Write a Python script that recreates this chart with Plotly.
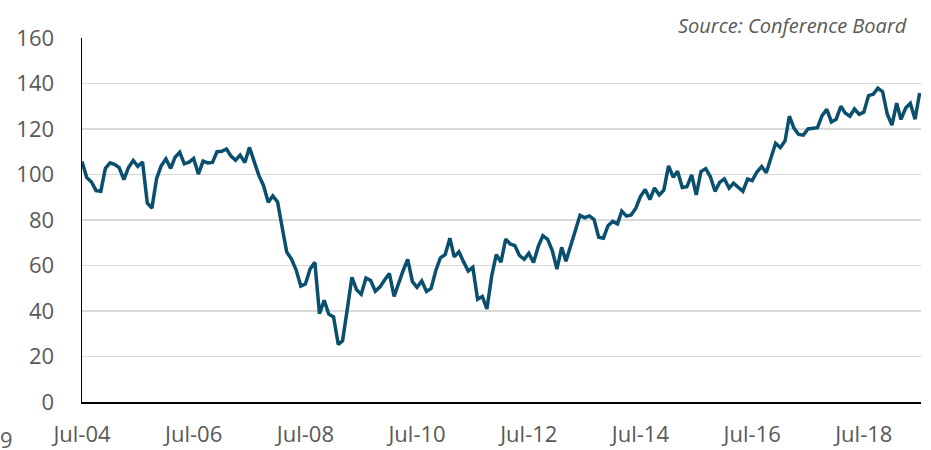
import pandas as pd
import plotly.graph_objects as go

start_month = "2004-07-01"
values = [
    105.7, 98.7, 96.7, 92.9, 92.6, 102.7,
    105.1, 104.4, 103.0, 97.7, 103.1, 106.2, 103.6, 105.5, 87.5, 85.2, 98.3, 103.8,
    106.8, 102.7, 107.5, 109.8, 104.7, 105.4, 107.0, 100.2, 105.9, 105.1, 105.3, 110.0,
    110.2, 111.2, 108.2, 106.3, 108.5, 105.3, 111.9, 105.6, 99.5, 95.2, 87.8, 90.6,
    87.9, 76.4, 65.9, 62.8, 58.1, 51.0, 51.9, 58.5, 61.4, 38.8, 44.7, 38.6,
    37.4, 25.3, 26.9, 40.8, 54.8, 49.3, 47.4, 54.5, 53.4, 48.7, 50.6, 53.6,
    56.5, 46.4, 52.3, 57.7, 62.7, 52.9, 50.4, 53.2, 48.6, 49.9, 57.8, 63.4,
    64.8, 72.0, 63.8, 66.0, 61.7, 57.6, 59.2, 45.2, 46.4, 40.9, 55.2, 64.8,
    61.5, 71.6, 69.5, 68.7, 64.4, 62.7, 65.4, 61.3, 68.4, 73.1, 71.5, 66.7,
    58.4, 68.0, 61.9, 69.0, 76.2, 82.1, 81.0, 81.8, 80.2, 72.4, 72.0, 77.5,
    79.4, 78.3, 83.9, 81.7, 82.2, 85.2, 90.3, 93.4, 89.0, 94.1, 91.0, 93.1,
    103.8, 98.8, 101.4, 94.3, 94.6, 99.8, 91.0, 101.3, 102.6, 99.1, 92.6, 96.5,
    98.1, 94.0, 96.2, 94.2, 92.6, 98.0, 97.3, 101.1, 103.5, 100.8, 107.1, 113.7,
    111.8, 114.8, 125.6, 120.3, 117.6, 117.3, 120.0, 120.4, 120.6, 125.9, 128.6, 123.1,
    124.3, 130.0, 127.0, 125.6, 128.8, 126.4, 127.4, 134.7, 135.3, 137.9, 136.4, 126.6,
    121.7, 131.4, 124.2, 129.2, 131.3, 124.3, 135.8,
]
tick_dates = ["2004-07-01", "2006-07-01", "2008-07-01", "2010-07-01",
              "2012-07-01", "2014-07-01", "2016-07-01", "2018-07-01"]
y_ticks = [0, 20, 40, 60, 80, 100, 120, 140, 160]
source_text = "Source: Conference Board"

dates = pd.date_range(start_month, periods=len(values), freq="MS")

fig = go.Figure()
fig.add_trace(go.Scatter(
    x=dates, y=values, mode="lines",
    line=dict(color="#0A4F6E", width=3.5),
    hoverinfo="skip", showlegend=False, cliponaxis=False,
))

font_family = "Open Sans, Lato, sans-serif"
fig.update_layout(
    width=931, height=450,
    margin=dict(l=82, r=10, t=38, b=48, autoexpand=False),
    paper_bgcolor="white", plot_bgcolor="white",
    font=dict(family=font_family, color="#595959", size=22),
    xaxis=dict(
        type="date", automargin=False,
        range=["2004-07-01", "2019-07-10"],
        tickvals=tick_dates, tickformat="%b-%y",
        showgrid=False, zeroline=False,
        showline=True, linecolor="#000000", linewidth=1.5,
        ticks="", ticklabelstandoff=12,
        tickfont=dict(size=22, color="#595959"),
    ),
    yaxis=dict(
        range=[0, 160], tickvals=y_ticks, automargin=False,
        showgrid=True, gridcolor="#d9d9d9", gridwidth=1.5,
        zeroline=False,
        showline=True, linecolor="#000000", linewidth=1.5,
        ticks="", ticklabelstandoff=22,
        tickfont=dict(size=22, color="#595959"),
    ),
    annotations=[
        dict(text=source_text, xref="paper", yref="paper",
             x=(909 - 82) / 839, y=1.0, xanchor="right", yanchor="bottom", yshift=-3,
             showarrow=False,
             font=dict(family=font_family, size=20, color="#595959", style="italic")),
        dict(text="9", xref="paper", yref="paper",
             x=-82 / 839, y=0, xanchor="left", yanchor="top", xshift=-2, yshift=-20,
             showarrow=False,
             font=dict(family=font_family, size=22, color="#595959")),
    ],
)

fig.write_html(
    "out.html",
    config={"displayModeBar": False, "staticPlot": True},
    post_script="document.body.style.margin='0';document.body.style.overflow='hidden';",
)
